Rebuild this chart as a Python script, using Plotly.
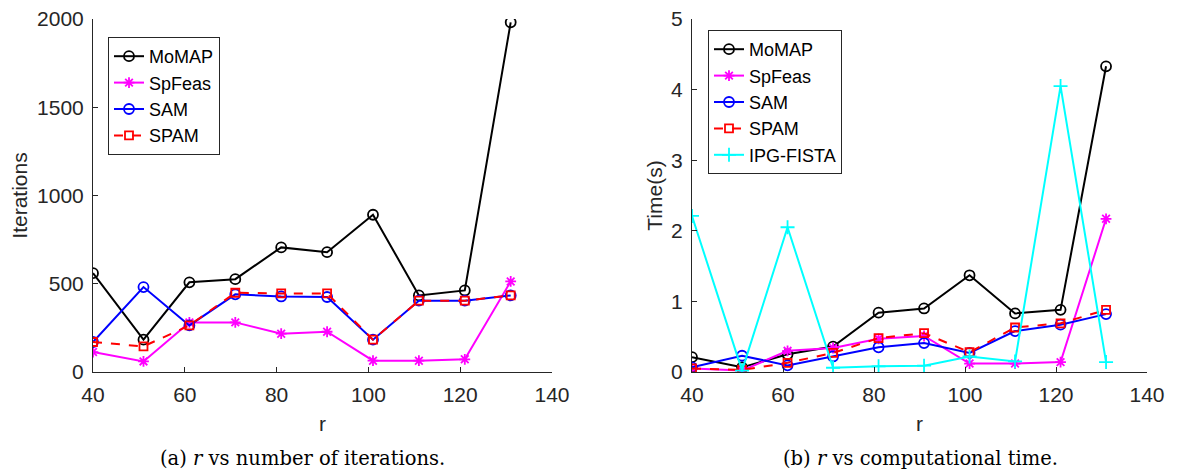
import plotly.graph_objects as go

r = [40, 51, 61, 71, 81, 91, 101, 111, 121, 131]

# (a) iterations
it_momap = [560, 183, 508, 526, 706, 679, 891, 434, 462, 1981]
it_spfeas = [113, 60, 281, 281, 217, 228, 64, 64, 72, 513]
it_sam = [170, 481, 264, 440, 428, 425, 183, 404, 404, 434]
it_spam = [170, 145, 264, 449, 445, 445, 183, 404, 404, 434]

# (b) time
t_momap = [0.21, 0.066, 0.25, 0.36, 0.84, 0.90, 1.37, 0.83, 0.88, 4.33]
t_spfeas = [0.05, 0.02, 0.30, 0.34, 0.47, 0.51, 0.12, 0.12, 0.14, 2.17]
t_sam = [0.066, 0.23, 0.094, 0.22, 0.35, 0.41, 0.27, 0.58, 0.67, 0.82]
t_spam = [0.05, 0.03, 0.13, 0.27, 0.48, 0.55, 0.28, 0.63, 0.69, 0.88]
t_ipg = [2.21, 0.02, 2.05, 0.06, 0.08, 0.09, 0.22, 0.15, 4.05, 0.14]

x_ticks = [40, 60, 80, 100, 120, 140]
it_ticks = [0, 500, 1000, 1500, 2000]
t_ticks = [0, 1, 2, 3, 4, 5]

# page body has an 8px margin; work in window pixels and convert
OFF = 8
W, H = 1187 - OFF, 471 - OFF


def px(x):
    return (x - OFF) / W


def py(y):
    return 1 - (y - OFF) / H


FONT = "Liberation Sans, Arial, Helvetica, sans-serif"
AX = "#262626"

styles = {
    "MoMAP": dict(color="black", symbol="circle-open", dash="solid", size=10),
    "SpFeas": dict(color="#ff00ff", symbol="asterisk-open", dash="solid", size=9),
    "SAM": dict(color="#0000ff", symbol="circle-open", dash="solid", size=10),
    "SPAM": dict(color="#ff0000", symbol="square-open", dash="dash", size=8),
    "IPG-FISTA": dict(color="#00ffff", symbol="cross-thin-open", dash="solid", size=10),
}

fig = go.Figure()


def add(name, y, xa, ya, leg):
    s = styles[name]
    fig.add_trace(go.Scatter(
        x=r, y=y, name=name, mode="lines+markers",
        line=dict(color=s["color"], width=2, dash=s["dash"]),
        marker=dict(symbol=s["symbol"], size=s["size"], color=s["color"],
                    line=dict(color=s["color"], width=1.8)),
        xaxis=xa, yaxis=ya, legend=leg,
    ))


add("MoMAP", it_momap, "x", "y", "legend")
add("SpFeas", it_spfeas, "x", "y", "legend")
add("SAM", it_sam, "x", "y", "legend")
add("SPAM", it_spam, "x", "y", "legend")

add("MoMAP", t_momap, "x2", "y2", "legend2")
add("SpFeas", t_spfeas, "x2", "y2", "legend2")
add("SAM", t_sam, "x2", "y2", "legend2")
add("SPAM", t_spam, "x2", "y2", "legend2")
add("IPG-FISTA", t_ipg, "x2", "y2", "legend2")

axis_common = dict(
    showline=True, linecolor=AX, linewidth=1, mirror=False,
    ticks="inside", ticklen=5, tickcolor=AX, tickwidth=1,
    showgrid=False, zeroline=False, automargin=False,
    ticklabeloverflow="allow",
    tickfont=dict(family=FONT, size=21, color=AX),
)
title_font = dict(family=FONT, size=21, color=AX)

ydom = [py(372), py(19)]

fig.update_layout(
    width=W, height=H,
    margin=dict(l=0, r=0, t=0, b=0, autoexpand=False),
    paper_bgcolor="white", plot_bgcolor="white",
    font=dict(family=FONT, color=AX),
    xaxis=dict(domain=[px(93), px(552)], range=[40, 140], tickvals=x_ticks,
               ticklabelstandoff=4,
               title=dict(text="r", font=title_font, standoff=11),
               anchor="y", **axis_common),
    yaxis=dict(domain=ydom, range=[0, 2000], tickvals=it_ticks,
               ticklabelstandoff=4,
               title=dict(text="Iterations", font=title_font, standoff=10),
               anchor="x", **axis_common),
    xaxis2=dict(domain=[px(692), px(1147)], range=[40, 140], tickvals=x_ticks,
                ticklabelstandoff=4,
                title=dict(text="r", font=title_font, standoff=11),
                anchor="y2", **axis_common),
    yaxis2=dict(domain=ydom, range=[0, 5], tickvals=t_ticks,
                ticklabelstandoff=4,
                title=dict(text="Time(s)", font=title_font, standoff=2),
                anchor="x2", **axis_common),
    legend=dict(x=px(108), y=py(37), xanchor="left", yanchor="top",
                bgcolor="white", bordercolor=AX, borderwidth=1,
                font=dict(family=FONT, size=18, color="black"), tracegroupgap=0),
    legend2=dict(x=px(708), y=py(30), xanchor="left", yanchor="top",
                 bgcolor="white", bordercolor=AX, borderwidth=1,
                 font=dict(family=FONT, size=18, color="black"), tracegroupgap=0),
    showlegend=True,
)

CAPFONT = dict(family="DejaVu Serif, serif", size=19.5, color="black")
fig.add_annotation(text="(a) <i>r</i> vs number of iterations.", x=px(302), y=py(458),
                   xref="paper", yref="paper", xanchor="center", yanchor="middle",
                   showarrow=False, font=CAPFONT)
fig.add_annotation(text="(b) <i>r</i> vs computational time.", x=px(920), y=py(458),
                   xref="paper", yref="paper", xanchor="center", yanchor="middle",
                   showarrow=False, font=CAPFONT)

fig.write_html("out.html")
